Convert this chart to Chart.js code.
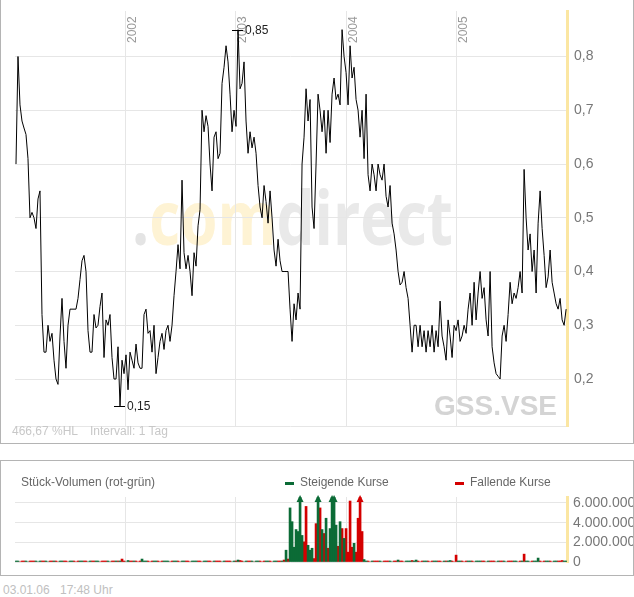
<!DOCTYPE html>
<html><head><meta charset="utf-8">
<script src="https://cdn.jsdelivr.net/npm/chart.js@4.4.0/dist/chart.umd.min.js"></script>
<style>
body{margin:0;background:#fff;width:634px;height:597px;position:relative;overflow:hidden;font-family:"Liberation Sans",Arial,sans-serif}
#main{position:absolute;left:0;top:0;width:632px;height:443px;border-left:1px solid #b4b4b4;border-right:1px solid #b4b4b4;border-bottom:1px solid #b4b4b4}
#vol{position:absolute;left:0;top:460px;width:632px;height:114px;border:1px solid #b4b4b4}
canvas{display:block}
.t{position:absolute;white-space:pre;line-height:16px}
.s12{font-size:12px}
.lg{position:absolute;width:9px;height:3px}
</style></head><body>
<div id="main"><canvas id="c1" width="632" height="443"></canvas></div>
<div id="vol"><canvas id="c2" width="632" height="114"></canvas></div>
<div class="t s12" style="left:12px;top:423px;color:#c8c8c8">466,67 %HL</div>
<div class="t s12" style="left:90px;top:423px;color:#c8c8c8">Intervall: 1 Tag</div>
<div class="t s12" style="left:21px;top:474px;color:#666">Stück-Volumen (rot-grün)</div>
<div class="lg" style="left:285px;top:482px;background:#0b6b36"></div>
<div class="t s12" style="left:300px;top:474px;color:#666">Steigende Kurse</div>
<div class="lg" style="left:455px;top:482px;background:#d40000"></div>
<div class="t s12" style="left:470px;top:474px;color:#666">Fallende Kurse</div>
<div class="t s12" style="left:3px;top:582px;color:#c0c0c0">03.01.06</div>
<div class="t s12" style="left:60px;top:582px;color:#c0c0c0">17:48 Uhr</div>
<script>
// ---- DATA ----
const yearTicks = [2002, 2003, 2004, 2005];
const priceTicks = [0.2, 0.3, 0.4, 0.5, 0.6, 0.7, 0.8];
const volumeTicks = [0, 1, 2, 3, 4, 5, 6];          // millions
const firstSample = 2001.009, sampleStep = 0.01812; // sampling grid (years)

const prices = [
 0.60,0.80,0.71,0.68,0.667,0.655,0.61,0.50,0.51,0.50,
 0.48,0.535,0.55,0.32,0.25,0.25,0.30,0.27,0.285,0.235,
 0.20,0.19,0.28,0.35,0.27,0.22,0.30,0.33,0.33,0.33,
 0.33,0.35,0.385,0.42,0.43,0.40,0.29,0.25,0.25,0.32,
 0.295,0.30,0.335,0.36,0.24,0.31,0.30,0.32,0.24,0.20,
 0.20,0.26,0.15,0.235,0.21,0.245,0.18,0.25,0.235,0.22,
 0.265,0.23,0.22,0.22,0.32,0.33,0.285,0.29,0.25,0.30,
 0.21,0.24,0.27,0.285,0.255,0.29,0.30,0.27,0.30,0.355,
 0.40,0.45,0.405,0.57,0.435,0.405,0.43,0.40,0.355,0.435,
 0.41,0.485,0.515,
 0.70,0.66,0.69,0.67,0.60,0.55,0.65,0.66,0.61,0.62,
 0.75,0.78,0.82,0.79,0.73,0.66,0.70,0.67,0.85,0.74,
 0.75,0.79,0.68,0.62,0.66,0.63,0.65,0.62,0.56,0.52,
 0.50,0.56,0.53,0.49,0.55,0.50,0.44,0.41,0.46,0.42,
 0.40,0.40,0.40,0.40,0.33,0.27,0.34,0.31,0.36,0.33,
 0.60,0.65,0.74,0.68,0.72,0.52,0.48,0.60,0.73,0.70,
 0.66,0.70,0.62,0.70,0.64,0.73,0.76,0.72,0.73,0.71,
 0.85,0.80,0.77,0.71,0.82,0.76,0.78,0.72,0.70,0.65,
 0.70,0.61,0.73,0.58,0.55,0.60,0.58,0.55,0.60,
 0.58,0.57,0.60,0.54,0.52,0.56,0.49,0.47,0.44,0.40,
 0.375,0.38,0.40,0.37,0.35,0.30,0.25,0.30,0.30,0.26,
 0.30,0.26,0.29,0.25,0.29,0.26,0.30,0.25,0.29,0.26,
 0.345,0.28,0.26,0.235,0.31,0.28,0.24,0.30,0.29,0.31,
 0.27,0.28,0.30,0.285,0.33,0.36,0.30,0.38,0.31,0.36,
 0.40,0.35,0.37,0.31,0.28,0.40,0.26,0.23,0.21,0.205,
 0.20,0.28,0.30,0.27,0.32,0.38,0.34,0.36,0.35,0.37,
 0.40,0.36,0.59,0.50,0.44,0.47,0.40,0.44,0.36,0.49,
 0.55,0.48,0.43,0.37,0.39,0.44,0.38,0.36,0.34,0.33,
 0.35,0.31,0.30,0.33
];

// volume in millions of shares, same sampling grid
const volume = [
 0.1,0.1,0,0.1,0.1,0.1,0,0.1,0.1,0.1,0.1,0,0.1,0.1,0.1,0.1,0,0.1,0.1,0.1,
 0.1,0,0.1,0.1,0.1,0.1,0,0.1,0.1,0.1,0,0.1,0.1,0.1,0.1,0.1,0,0.1,0.1,0.1,
 0.1,0.1,0,0.1,0.1,0.1,0.1,0,0.1,0.1,0.1,0.1,0.1,0.3,0.1,0,0.15,0.1,0.1,0.1,
 0.1,0,0.1,0.3,0.1,0.1,0.1,0,0.1,0.1,0.1,0.1,0,0.1,0.1,0.1,0.1,0,0.1,0.1,
 0.1,0.1,0,0.1,0.1,0.1,0.1,0,0.1,0.1,0.1,0.1,0.1,0,0.1,0.1,0.1,0.1,0,0.1,
 0.1,0.1,0.1,0,0.1,0.1,0.1,0.1,0,0.1,0.1,0.2,0.15,0.1,0,0.1,0.1,0.1,0.1,0,
 0.1,0.1,0.1,0,0.1,0.1,0.1,0.1,0,0.1,0.1,0.1,0.1,0.1,0.2,1.2,0.3,5.5,4.1,1.5,
 3.3,3.1,8,2.7,2.05,5.65,1.7,1.2,1.4,0.35,3.9,8,5.5,3.3,2.9,4.45,1.4,3.4,8,8,
 3.75,1.6,4.1,3.4,2.4,3.4,1.0,6.2,1.5,1.9,1.0,4.45,8,3.1,0.25,0.1,0.1,0,0.1,0.1,
 0.1,0.1,0.1,0,0.1,0.1,0.1,0.1,0,0.1,0.1,0.2,0.1,0.1,0,0.1,0.1,0.1,0.15,0.1,
 0.2,0.1,0,0.1,0.1,0.1,0.1,0,0.1,0.1,0.1,0.1,0.1,0,0.1,0.1,0.1,0.15,0.1,0,
 0.7,0.1,0.1,0.1,0,0.1,0.1,0.1,0.1,0,0.1,0.1,0.1,0.1,0.1,0,0.1,0.1,0.1,0.1,
 0,0.1,0.1,0.1,0.1,0,0.1,0.1,0.1,0.1,0.1,0,0.1,0.1,0.8,0.1,0.1,0,0.1,0.1,
 0.1,0.4,0.1,0,0.1,0.1,0.1,0.1,0,0.1,0.1,0.1,0.1,0.15,0.1,0.1
];
// u = rising price (green), d = falling price (red)
const volTrend = (
 "uuddduuddduuudduuddu" + "dduuddduuddduudduudd" + "uudddduuddududduuddu" +
 "ddduuuddduuddduuuddu" + "udduuddduuuddduudddu" + "ddduuddduududduuddud" +
 "uuddduudduuddududuuu" + "uuuudduuuddudududuuu" + "udududdddudddduuddud" +
 "dduuddduudduddduuudu" + "uddduuddduuddduduudd" + "duuddduudduuudduuddd" +
 "uudduuddduudduduuddu" + "uuddduudduuddduu").split('');

// ---- CHART ----
const FAM = '"Liberation Sans", Arial, sans-serif';
Chart.defaults.font.family = FAM;
const X_MIN = 2001.0, X_MAX = 2006.0;
const dates = prices.map((_, i) => firstSample + i * sampleStep);
const GRID = '#e6e6e6', AXIS_YELLOW = '#fbe6a2';
const fmtPrice = v => v.toFixed(1).replace('.', ',');

const watermark = {
  id: 'wm',
  beforeDraw(chart) {
    const ctx = chart.ctx;
    ctx.save();
    const F = 64;
    ctx.font = `bold ${F}px "Open Sans", "DejaVu Sans", sans-serif`;
    const w = ctx.measureText('.comdirect').width;
    const sx = 321 / w, sy = 40 / (0.535 * F);
    ctx.translate(131, 245);
    ctx.scale(sx, sy);
    ctx.textBaseline = 'alphabetic';
    ctx.textAlign = 'left';
    let x = 0;
    const parts = [['.', '#e4e4e4'], ['com', '#fef3d4'], ['direct', '#e9e9e9']];
    for (const [t, c] of parts) { ctx.fillStyle = c; ctx.fillText(t, x, 0); x += ctx.measureText(t).width; }
    ctx.restore();
  },
  beforeDatasetsDraw(chart) {
    const ctx = chart.ctx;
    ctx.save();
    ctx.font = `bold 28px ${FAM}`;
    ctx.fillStyle = '#d4d4d4';
    ctx.textAlign = 'right'; ctx.textBaseline = 'alphabetic';
    ctx.fillText('GSS.VSE', 556, 415);
    // year labels (rotated) at the x-scale's tick positions
    const xs = chart.scales.x;
    ctx.font = `12px ${FAM}`;
    ctx.fillStyle = '#9a9a9a';
    ctx.textAlign = 'left';
    for (const yr of yearTicks) {
      const px = xs.getPixelForValue(yr);
      ctx.save();
      ctx.translate(px + 10.5, 43);
      ctx.rotate(-Math.PI / 2);
      ctx.fillText(String(yr), 0, 0);
      ctx.restore();
    }
    ctx.restore();
  }
};

const extremes = {
  id: 'ext',
  afterDatasetsDraw(chart) {
    const ctx = chart.ctx, xs = chart.scales.x, ys = chart.scales.y;
    let iMax = 0, iMin = 0;
    prices.forEach((v, i) => { if (v > prices[iMax]) iMax = i; if (v < prices[iMin]) iMin = i; });
    ctx.save();
    ctx.strokeStyle = '#000'; ctx.lineWidth = 1;
    ctx.font = `12px ${FAM}`; ctx.fillStyle = '#222';
    ctx.textAlign = 'left'; ctx.textBaseline = 'middle';
    for (const i of [iMax, iMin]) {
      const px = Math.round(xs.getPixelForValue(dates[i]));
      const py = Math.round(ys.getPixelForValue(prices[i])) + 0.5;
      ctx.beginPath(); ctx.moveTo(px - 6, py); ctx.lineTo(px + 5, py); ctx.stroke();
      ctx.fillText(prices[i].toFixed(2).replace('.', ','), px + 7, py);
    }
    ctx.restore();
  }
};

new Chart(document.getElementById('c1'), {
  type: 'line',
  data: { datasets: [{
    data: prices.map((v, i) => ({ x: dates[i], y: v })),
    borderColor: '#000', borderWidth: 1, pointRadius: 0, tension: 0, fill: false
  }]},
  options: {
    responsive: false, animation: false, events: [],
    layout: { padding: { left: 14, top: 11, right: 0, bottom: 17 } },
    plugins: { legend: { display: false }, tooltip: { enabled: false } },
    scales: {
      x: {
        type: 'linear', position: 'top', min: X_MIN, max: X_MAX,
        afterBuildTicks: s => { s.ticks = yearTicks.map(v => ({ value: v })); },
        ticks: { display: false },
        grid: { color: GRID, drawTicks: false },
        border: { display: false },
        afterFit: s => { s.height = 0; s.paddingLeft = 0; s.paddingRight = 0; }
      },
      y: {
        type: 'linear', position: 'right', min: 0.1126, max: 0.8847,
        afterBuildTicks: s => { s.ticks = [0.1126, ...priceTicks].map(v => ({ value: v })); },
        ticks: { padding: 7, color: '#777', font: { size: 14 },
          callback: v => (v < 0.15 ? '' : fmtPrice(v)) },
        grid: { color: GRID, drawTicks: false },
        border: { color: AXIS_YELLOW, width: 3 },
        afterFit: s => { s.width = 66; s.paddingTop = 0; s.paddingBottom = 0; }
      }
    }
  },
  plugins: [watermark, extremes]
});

// ---- VOLUME ----
const GREEN = '#0b6b36', RED = '#d40000';
const arrows = {
  id: 'arrows',
  afterDatasetsDraw(chart) {
    const ctx = chart.ctx, ys = chart.scales.y, top = chart.chartArea.top;
    ctx.save();
    chart.data.datasets.forEach((ds, di) => {
      const meta = chart.getDatasetMeta(di);
      meta.data.forEach((el, i) => {
        const r = ds.data[i];
        if (r && r.y !== null && r.y > ys.max) {
          ctx.fillStyle = ds.backgroundColor;
          ctx.beginPath();
          ctx.moveTo(el.x, top - 2);
          ctx.lineTo(el.x - 3.5, top + 5);
          ctx.lineTo(el.x + 3.5, top + 5);
          ctx.closePath(); ctx.fill();
        }
      });
    });
    ctx.restore();
  }
};

new Chart(document.getElementById('c2'), {
  type: 'bar',
  data: { datasets: [
    { label: 'Steigende Kurse', backgroundColor: GREEN, barThickness: 2, grouped: false, clip: 0,
      data: dates.map((d, i) => ({ x: d, y: volTrend[i] === 'u' ? volume[i] : null })) },
    { label: 'Fallende Kurse', backgroundColor: RED, barThickness: 2, grouped: false, clip: 0,
      data: dates.map((d, i) => ({ x: d, y: volTrend[i] === 'd' ? volume[i] : null })) }
  ]},
  options: {
    responsive: false, animation: false, events: [], skipNull: true,
    layout: { padding: { left: 14, top: 36, right: 0, bottom: 13 } },
    plugins: { legend: { display: false }, tooltip: { enabled: false } },
    scales: {
      x: {
        type: 'linear', position: 'bottom', min: X_MIN, max: X_MAX, offset: false,
        afterBuildTicks: s => { s.ticks = yearTicks.map(v => ({ value: v })); },
        ticks: { display: false },
        grid: { color: GRID, drawTicks: false, offset: false },
        border: { display: false },
        afterFit: s => { s.height = 0; s.paddingLeft = 0; s.paddingRight = 0; }
      },
      y: {
        type: 'linear', position: 'right', min: 0, max: 6.61,
        afterBuildTicks: s => { s.ticks = volumeTicks.map(v => ({ value: v })); },
        ticks: { padding: 6, color: '#777', font: { size: 14 },
          callback: v => (v % 2 !== 0 ? '' : (v === 0 ? '0' : v + '.000.000')) },
        grid: { color: GRID, drawTicks: false },
        border: { color: AXIS_YELLOW, width: 3 },
        afterFit: s => { s.width = 66; s.paddingTop = 0; s.paddingBottom = 0; }
      }
    }
  },
  plugins: [arrows]
});
</script>
</body></html>
